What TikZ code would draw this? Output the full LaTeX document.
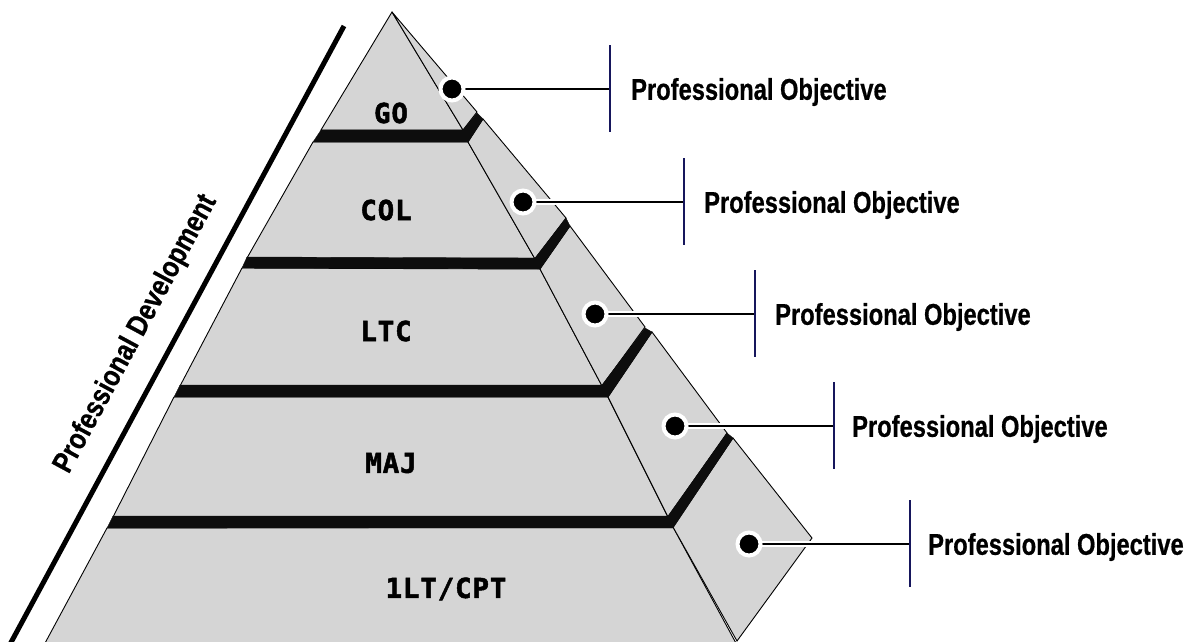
\documentclass[tikz,border=0pt]{standalone}
\usepackage{fontspec}
\newfontfamily\objfont[FakeStretch=0.79,FakeBold=0.6]{Liberation Sans}
\newfontfamily\devfont[FakeStretch=0.84,FakeBold=0.6]{Liberation Sans}
\newfontfamily\rankfont[LetterSpace=3,FakeBold=1.8]{DejaVu Sans Mono}
\definecolor{facegray}{HTML}{D5D5D5}
\definecolor{barnavy}{HTML}{16165C}
\begin{document}
\begin{tikzpicture}[x=1pt,y=-1pt,
  face/.style={fill=facegray,draw=black,line width=0.9pt,line join=miter},
  band/.style={fill=black!95,draw=black!95,line width=0.4pt},
  rank/.style={font=\rankfont\bfseries\fontsize{27.5}{29}\selectfont,inner sep=0pt},
  obj/.style={font=\objfont\bfseries\fontsize{30}{32}\selectfont,anchor=west,inner sep=0pt},
  dot/.style={circle,fill=black,draw=white,line width=4pt,minimum size=23pt,inner sep=0pt},
  halo/.style={draw=white,line width=5.5pt},
  leader/.style={draw=black,line width=2pt},
  tick/.style={draw=barnavy,line width=1.6pt}]
\useasboundingbox (0,0) rectangle (1191,641);

% thick slanted rule along the left flank
\draw[line width=5pt] (344,26) -- (8,648);
\node[font=\devfont\bfseries\fontsize{29.5}{32}\selectfont,rotate=61.6,inner sep=0pt]
  (dev) at (136,334) {Professional Development};

% tier 1: 1LT/CPT
\draw[face] (107,528) -- (673,527) -- (737,645) -- (44,645) -- cycle;
\draw[face] (673,527) -- (733,438) -- (812,538) -- (737,641) -- cycle;
% tier 2: MAJ
\draw[face] (174,397) -- (608,397) -- (668,517) -- (113,517) -- cycle;
\draw[face] (608,397) -- (652,332) -- (727,433) -- (668,517) -- cycle;
% tier 3: LTC
\draw[face] (242,268) -- (540,269) -- (602,386) -- (180,386) -- cycle;
\draw[face] (540,269) -- (570,226) -- (645,327) -- (602,386) -- cycle;
% tier 4: COL
\draw[face] (313,142) -- (468,142) -- (535,259) -- (247,258) -- cycle;
\draw[face] (468,142) -- (483,119) -- (566,218) -- (535,259) -- cycle;
% tier 5: GO (apex)
\draw[face] (392,12) -- (463,130) -- (321,130) -- cycle;
\draw[face] (392,12) -- (477,112) -- (463,130) -- cycle;

% black ledges between the tiers
\fill[band] (113,516) -- (668,516) -- (727,433) -- (733,438) -- (673,528) -- (107,528) -- cycle;
\fill[band] (180,385) -- (602,385) -- (645,328) -- (652,332) -- (608,397) -- (174,397) -- cycle;
\fill[band] (247,257) -- (535,258) -- (566,218) -- (570,226) -- (540,269) -- (242,268) -- cycle;
\fill[band] (321,130) -- (463,130) -- (477,113) -- (483,119) -- (468,142) -- (313,142) -- cycle;

% rank labels
\node[rank] (go)  at (391,113) {GO};
\node[rank] (col) at (386,210) {COL};
\node[rank] (ltc) at (386,331) {LTC};
\node[rank] (maj) at (391,463) {MAJ};
\node[rank] (lt)  at (446,589) {1LT/CPT};

% objective markers, leaders and ticks
\foreach \i/\dx/\dy/\bx/\tx in {1/452/89/610/631, 2/523/202/684/704, 3/595/314/755/775,
                                4/675/426/834/852, 5/749/544/910/928}{
  \coordinate (b\i) at (\bx,\dy);
  \coordinate (bt\i) at (\bx,\dy-44);
  \coordinate (bb\i) at (\bx,\dy+43);
  \draw[halo] (\dx,\dy) -- (b\i);
  \draw[leader] (\dx,\dy) -- (b\i);
  \node[dot] (d\i) at (\dx,\dy) {};
  \draw[tick] (bt\i) -- (bb\i);
  \node[obj] (o\i) at (\tx,\dy+3) {Professional Objective};
}
\end{tikzpicture}
\end{document}
